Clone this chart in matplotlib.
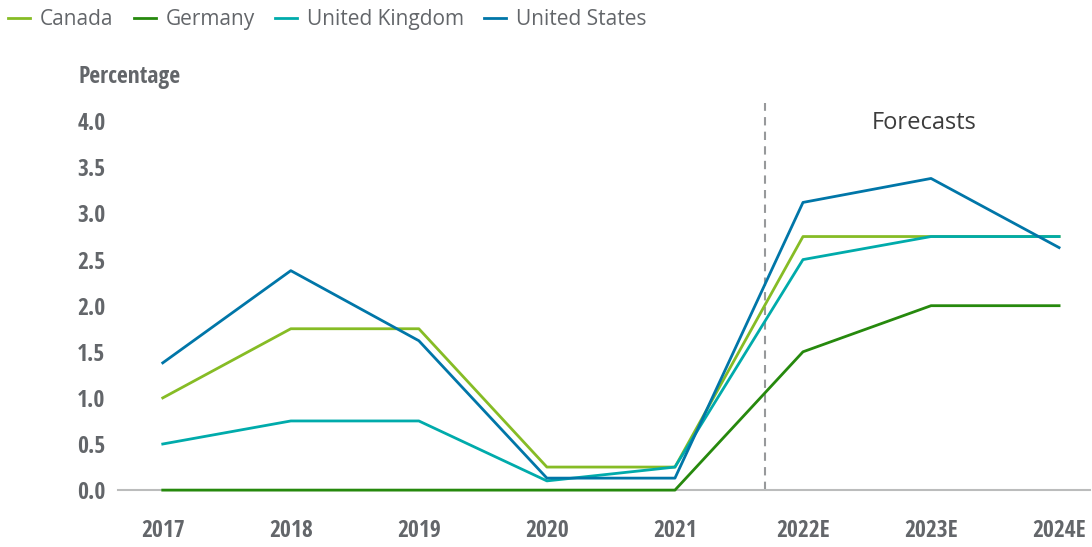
import matplotlib.pyplot as plt

years = ['2017', '2018', '2019', '2020', '2021', '2022E', '2023E', '2024E']
canada = [1.0, 1.75, 1.75, 0.25, 0.25, 2.75, 2.75, 2.75]
germany = [0.0, 0.0, 0.0, 0.0, 0.0, 1.5, 2.0, 2.0]
uk = [0.5, 0.75, 0.75, 0.1, 0.25, 2.5, 2.75, 2.75]
us = [1.38, 2.38, 1.62, 0.13, 0.13, 3.12, 3.38, 2.63]
yticks = [0.0, 0.5, 1.0, 1.5, 2.0, 2.5, 3.0, 3.5, 4.0]

grey_text = '#63666A'
cond = ['Open Sans Condensed', 'DejaVu Sans']

fig = plt.figure(figsize=(10.92, 5.47), dpi=100)
ax = fig.add_axes([0.108, 0.104, 0.89, 0.708])

x = list(range(len(years)))
series = [('Canada', canada, '#86BC25'),
          ('Germany', germany, '#26890D'),
          ('United Kingdom', uk, '#00ABAB'),
          ('United States', us, '#0076A8')]
for name, vals, col in series:
    ax.plot(x, vals, color=col, lw=2, label=name, clip_on=False, zorder=3)

ax.axvline(4.7, color='#97999B', lw=1.5, ls=(0, (4, 3)), zorder=1)
ax.text(5.95, 3.98, 'Forecasts', family='Open Sans', fontsize=17,
        color='#3C3C3C', ha='center', va='center')

ax.set_xlim(-0.35, 7.24)
ax.set_ylim(0, 4.2)
ax.set_xticks(x)
ax.set_xticklabels(years)
ax.set_yticks(yticks)
ax.set_yticklabels([f'{v:.1f}' for v in yticks])
for lab in ax.get_xticklabels() + ax.get_yticklabels():
    lab.set_family(cond)
    lab.set_fontweight('bold')
    lab.set_fontsize(17)
    lab.set_color(grey_text)
ax.tick_params(axis='x', length=0, pad=21)
ax.tick_params(axis='y', length=0, pad=9)

for s in ['top', 'right', 'left']:
    ax.spines[s].set_visible(False)
ax.spines['bottom'].set_color('#BBBCBC')
ax.spines['bottom'].set_linewidth(1.5)

fig.text(78 / 1092, 1 - 77 / 547, 'Percentage', family=cond, fontweight='bold',
         fontsize=17, color=grey_text, va='center', ha='left')

leg = fig.legend(loc='upper left', bbox_to_anchor=(8 / 1092, 1 - 9 / 547), ncol=4,
                 frameon=False, handlelength=1.06, handletextpad=0.48,
                 columnspacing=0.96, borderpad=0, borderaxespad=0,
                 prop={'family': 'Open Sans', 'size': 15})
for t in leg.get_texts():
    t.set_color(grey_text)

fig.savefig('out.png', dpi=100)
